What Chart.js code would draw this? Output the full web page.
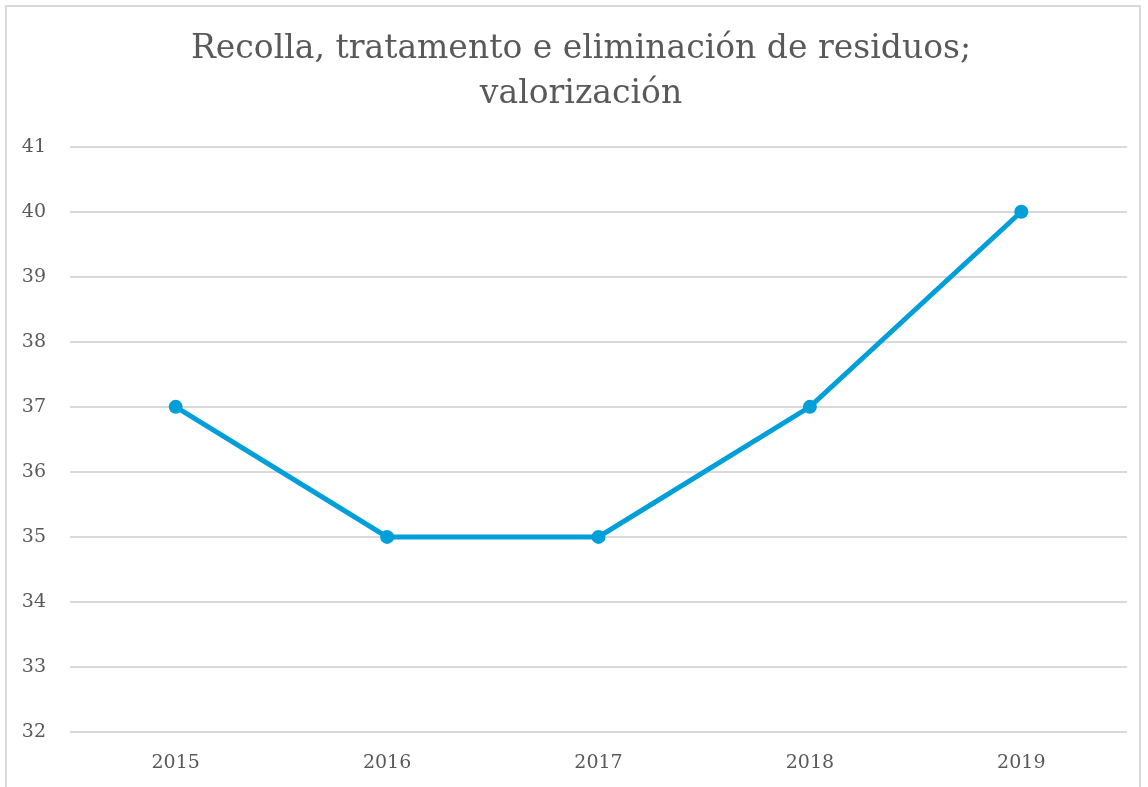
<!DOCTYPE html>
<html><head><meta charset="utf-8">
<script src="https://cdn.jsdelivr.net/npm/chart.js@4.4.0/dist/chart.umd.min.js"></script>
<style>
html,body{margin:0;padding:0;background:#fff;}
#wrap{position:relative;width:1148px;height:787px;}
#box{position:absolute;left:5px;top:5px;width:1136px;height:800px;border:2px solid #d9d9d9;box-sizing:border-box;}
canvas{position:absolute;left:0;top:0;}
</style></head>
<body>
<div id="wrap"><div id="box"></div><canvas id="c" width="1148" height="787"></canvas></div>
<script>
const titleLines = ['Recolla, tratamento e eliminación de residuos;', 'valorización'];
const categories = ['2015', '2016', '2017', '2018', '2019'];
const values = [37, 35, 35, 37, 40];
const yTicks = [32, 33, 34, 35, 36, 37, 38, 39, 40, 41];

const FONT = "'DejaVu Serif', serif";
const GREY = '#595959';
const BLUE = '#009FDA';

const titleShift = {
  id: 'titleShift',
  afterLayout(chart) {
    if (chart.titleBlock) { chart.titleBlock.left = 35; }
  }
};

new Chart(document.getElementById('c'), {
  type: 'line',
  data: {
    labels: categories,
    datasets: [{
      data: values,
      borderColor: BLUE,
      backgroundColor: BLUE,
      borderWidth: 5,
      pointRadius: 7,
      pointHoverRadius: 7,
      pointBackgroundColor: BLUE,
      pointBorderWidth: 0,
      tension: 0
    }]
  },
  plugins: [titleShift],
  options: {
    responsive: false,
    animation: false,
    layout: { padding: { left: 10, right: 21, top: 10, bottom: 0 } },
    plugins: {
      legend: { display: false },
      tooltip: { enabled: false },
      title: {
        display: true,
        text: titleLines,
        color: GREY,
        font: { family: FONT, size: 33, weight: 'normal', lineHeight: 1.36 },
        padding: { top: 17, bottom: 30 }
      }
    },
    scales: {
      x: {
        offset: true,
        grid: { display: false, drawTicks: false },
        border: { display: false },
        ticks: { color: GREY, font: { family: FONT, size: 19 }, padding: 20 },
        afterFit: (s) => { s.height = 55; }
      },
      y: {
        min: yTicks[0],
        max: yTicks[yTicks.length - 1],
        afterBuildTicks: (s) => { s.ticks = yTicks.map(v => ({ value: v })); },
        grid: { color: '#d9d9d9', lineWidth: 2, drawTicks: false },
        border: { display: false },
        ticks: { color: GREY, font: { family: FONT, size: 19 }, padding: 24 },
        afterFit: (s) => { s.width = 60; }
      }
    }
  }
});
</script>
</body></html>
